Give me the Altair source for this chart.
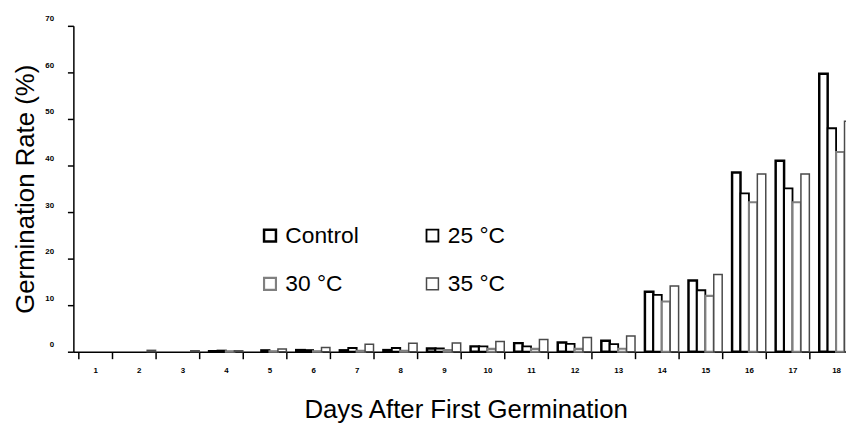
import altair as alt
import pandas as pd

days = list(range(1, 19))
series = ["Control", "25 °C", "30 °C", "35 °C"]
control = [0, 0, 0, 0.1, 0, 0.35, 0.3, 0.35, 0.7, 1.15, 1.85, 2.0, 2.35, 12.9, 15.3, 38.5, 41.0, 59.7]
t25 = [0, 0, 0, 0.25, 0.35, 0.35, 0.8, 0.8, 0.7, 1.15, 1.15, 1.7, 1.65, 12.2, 13.2, 34.0, 35.1, 48.0]
t30 = [0, 0, 0, 0.1, 0.1, 0.1, 0.2, 0.2, 0.35, 0.6, 0.6, 0.6, 0.65, 10.8, 12.0, 32.1, 32.1, 42.9]
t35 = [0, 0.3, 0.2, 0.2, 0.6, 0.9, 1.6, 1.8, 1.85, 2.2, 2.65, 3.05, 3.4, 14.1, 16.6, 38.2, 38.2, 49.5]
y_ticks = [0, 10, 20, 30, 40, 50, 60, 70]

# legend fills column by column, so list entries in column order
legend_order = ["Control", "30 °C", "25 °C", "35 °C"]
stroke_colors = ["#000000", "#808080", "#000000", "#4a4a4a"]
stroke_widths = [2.5, 1.5, 2.0, 1.2]

rows = []
for name, vals in zip(series, [control, t25, t30, t35]):
    for d, v in zip(days, vals):
        rows.append({"day": d, "series": name, "value": v})
df = pd.DataFrame(rows)

FONT = "Liberation Sans"

legend_def = alt.Legend(
    title=None, orient="none", legendX=187, legendY=200, columns=2,
    symbolType="square", symbolSize=144, symbolFillColor="white",
    labelFontSize=23, labelFont=FONT, labelColor="black", labelOffset=4,
    columnPadding=62, rowPadding=25, padding=0,
)

chart = alt.Chart(df).transform_filter("datum.value > 0").mark_bar(
    fill="white", fillOpacity=1
).encode(
    x=alt.X("day:O",
            scale=alt.Scale(domain=days, range=[0, 792], paddingInner=0.227, paddingOuter=0.1136),
            axis=alt.Axis(title="Days After First Germination", labelAngle=0, tickBand="extent",
                          tickSize=7, labelPadding=8, labelFontSize=8, labelFontWeight="bold",
                          titleFontSize=26, titleFontWeight="normal", titlePadding=22)),
    xOffset=alt.XOffset("series:N", scale=alt.Scale(domain=series, paddingInner=0, paddingOuter=0)),
    y=alt.Y("value:Q",
            scale=alt.Scale(domain=[0, 70], nice=False),
            axis=alt.Axis(title="Germination Rate (%)", values=y_ticks, tickSize=6, labelPadding=14,
                          labelFontSize=8, labelFontWeight="bold", labelOffset=-7,
                          titleFontSize=26, titleFontWeight="normal", titlePadding=6, grid=False)),
    stroke=alt.Stroke("series:N", scale=alt.Scale(domain=legend_order, range=stroke_colors), legend=legend_def),
    strokeWidth=alt.StrokeWidth("series:N", scale=alt.Scale(domain=legend_order, range=stroke_widths), legend=legend_def),
).properties(
    width=780, height=329,
    autosize=alt.AutoSizeParams(type="none"),
    padding={"left": 66, "top": 16, "right": 0, "bottom": 76},
).configure(
    font=FONT,
    background="white",
).configure_view(
    stroke=None
).configure_axis(
    domainColor="black", domainWidth=1.5, tickColor="black", tickWidth=1.5,
    labelColor="black", titleColor="black", labelFont=FONT, titleFont=FONT, grid=False,
)

chart.save("out.html", embed_options={"renderer": "svg", "actions": False})
